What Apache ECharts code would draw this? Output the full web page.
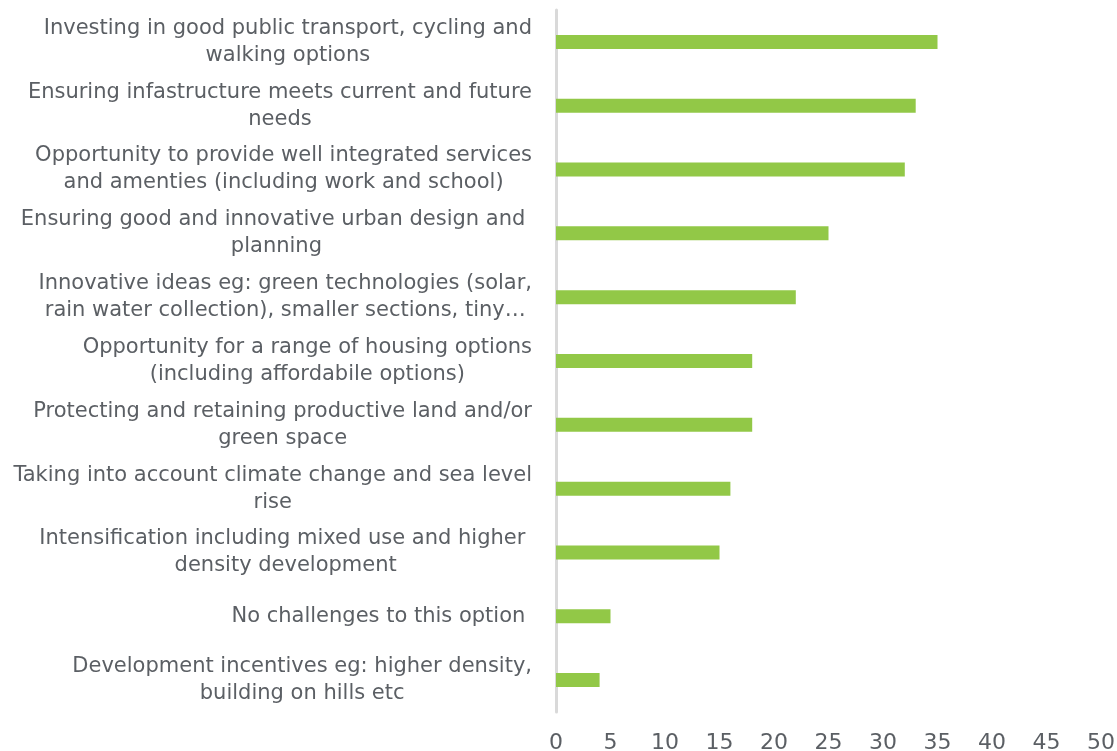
<!DOCTYPE html>
<html>
<head>
    <meta charset="UTF-8">
    <title>Challenges chart</title>
</head>
<body style="margin:0">
    <div id="main" style="width: 1117px;height:751px;"></div>
    <script src="https://cdn.jsdelivr.net/npm/echarts@6/dist/echarts.min.js"></script>
    <script type="text/javascript">
        // categories, top to bottom
        var categories = [
            'Investing in good public transport, cycling and\nwalking options',
            'Ensuring infastructure meets current and future\nneeds',
            'Opportunity to provide well integrated services\nand amenties (including work and school)',
            'Ensuring good and innovative urban design and \nplanning',
            'Innovative ideas eg: green technologies (solar,\nrain water collection), smaller sections, tiny…',
            'Opportunity for a range of housing options\n(including affordabile options)',
            'Protecting and retaining productive land and/or\ngreen space',
            'Taking into account climate change and sea level\nrise',
            'Intensification including mixed use and higher \ndensity development',
            'No challenges to this option ',
            'Development incentives eg: higher density,\nbuilding on hills etc'
        ];
        var counts = [35, 33, 32, 25, 22, 18, 18, 16, 15, 5, 4];
        var xTicks = [0, 5, 10, 15, 20, 25, 30, 35, 40, 45, 50];

        var textColor = '#5b5f64';
        var myChart = echarts.init(document.getElementById('main'));

        var option = {
            animation: false,
            grid: { left: 556, right: 16, top: 10, bottom: 39, outerBoundsMode: 'none' },
            xAxis: {
                type: 'value',
                min: xTicks[0],
                max: xTicks[xTicks.length - 1],
                interval: 5,
                splitLine: { show: false },
                axisLine: { show: false },
                axisTick: { show: false },
                axisLabel: {
                    color: textColor,
                    fontSize: 22,
                    fontFamily: 'DejaVu Sans',
                    margin: 20
                }
            },
            yAxis: {
                type: 'category',
                inverse: true,
                data: categories,
                axisTick: { show: false },
                axisLine: { lineStyle: { color: '#d9d9d9', width: 3 } },
                axisLabel: {
                    margin: 24,
                    formatter: function (v) {
                        return v.split('\n').map(function (s) { return '{c|' + s + '}'; }).join('\n');
                    },
                    rich: {
                        c: {
                            align: 'center',
                            color: textColor,
                            fontSize: 21,
                            lineHeight: 27,
                            fontFamily: 'DejaVu Sans'
                        }
                    }
                }
            },
            series: [{
                type: 'bar',
                data: counts,
                barWidth: 14,
                itemStyle: { color: '#92c847' }
            }]
        };

        myChart.setOption(option);
    </script>
</body>
</html>
